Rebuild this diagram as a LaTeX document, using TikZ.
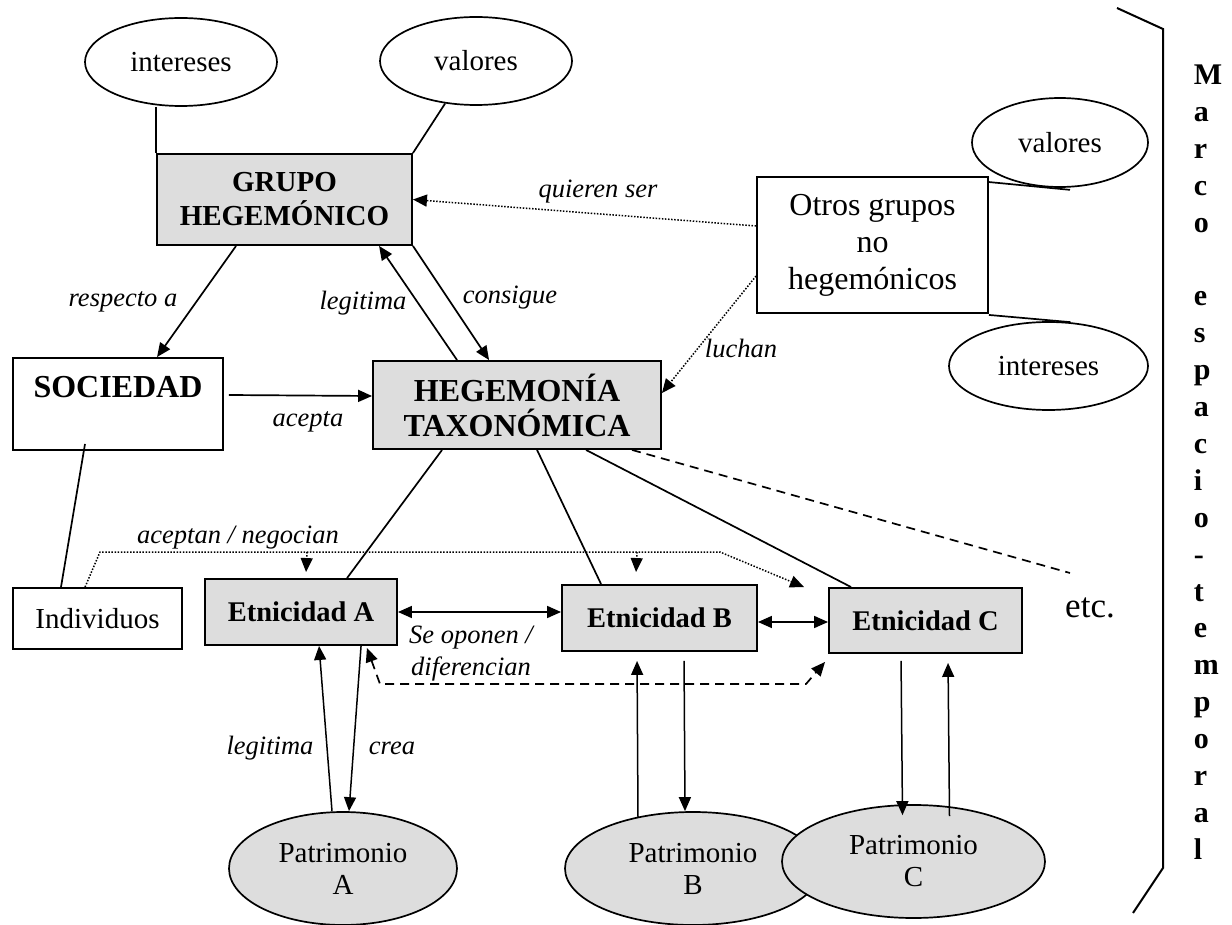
\documentclass[tikz,border=0pt]{standalone}
\usepackage{fontspec}
\setmainfont{Liberation Serif}
\usetikzlibrary{arrows.meta,shapes.geometric,calc}
\definecolor{boxgray}{RGB}{221,221,221}
\begin{document}
\begin{tikzpicture}[x=1pt,y=-1pt,line width=1.7pt,
  rbox/.style={draw, rectangle, inner sep=0pt, align=center, line width=1.9pt},
  gbox/.style={rbox, fill=boxgray},
  oval/.style={draw, ellipse, inner sep=0pt, align=center, line width=1.7pt, font=\fontsize{29}{32}\selectfont},
  lab/.style={inner sep=0pt, align=center, font=\fontsize{26.5}{32}\selectfont\itshape},
  arr/.style={-{Triangle[length=14pt,width=12pt]}},
  arrboth/.style={{Triangle[length=14pt,width=12pt]}-{Triangle[length=14pt,width=12pt]}},
  dotline/.style={line width=1.5pt, dash pattern=on 1.5pt off 1.6pt},
  dashline/.style={line width=1.7pt, dash pattern=on 9pt off 6pt}
]
\useasboundingbox[fill=white] (0,0) rectangle (1232,925);

% ellipses top
\node[oval, minimum width=192pt, minimum height=88pt] (int1) at (181,62) {intereses};
\node[oval, minimum width=192pt, minimum height=88pt] (val1) at (476,61) {valores};
\node[oval, minimum width=176pt, minimum height=89pt] (val2) at (1060,142.5) {valores};
\node[oval, minimum width=199pt, minimum height=88pt] (int2) at (1048.5,366) {intereses};

% boxes
\node[gbox, minimum width=255pt, minimum height=91pt, font=\fontsize{29}{34}\selectfont\bfseries] (gh) at (284.5,199.5) {GRUPO\\HEGEMÓNICO};
\node[gbox, minimum width=288pt, minimum height=88pt, font=\fontsize{32}{35}\selectfont\bfseries] (ht) at (517,405) {HEGEMONÍA\\TAXONÓMICA};
\node[rbox, minimum width=210pt, minimum height=92pt, font=\fontsize{32}{35}\selectfont\bfseries] (soc) at (118,404) {SOCIEDAD\\\mbox{}};
\node[rbox, minimum width=169pt, minimum height=61pt, font=\fontsize{29}{32}\selectfont] (ind) at (97.5,618.5) {Individuos};
\node[gbox, minimum width=192pt, minimum height=66pt, font=\fontsize{28.5}{32}\selectfont\bfseries] (ea) at (301,612) {Etnicidad A};
\node[gbox, minimum width=195pt, minimum height=66pt, font=\fontsize{28.5}{32}\selectfont\bfseries] (eb) at (659.5,618) {Etnicidad B};
\node[gbox, minimum width=193pt, minimum height=65pt, font=\fontsize{28.5}{32}\selectfont\bfseries] (ec) at (925.5,620.5) {Etnicidad C};
\node[rbox, minimum width=231pt, minimum height=136pt, font=\fontsize{32}{37}\selectfont] (otros) at (872.5,245) {Otros grupos\\no\\hegemónicos};

% patrimonio ellipses
\node[oval, fill=boxgray, minimum width=228pt, minimum height=113pt] (pa) at (343,868.5) {Patrimonio\\A};
\node[oval, fill=boxgray, minimum width=256pt, minimum height=113pt] (pb) at (693,868.5) {Patrimonio\\B};
\node[oval, fill=boxgray, minimum width=263pt, minimum height=113pt] (pc) at (913.5,861.5) {Patrimonio\\C};

% etc
\node[inner sep=0pt, font=\fontsize{35}{40}\selectfont] (etc) at (1090,608) {etc.};
\coordinate (etcend) at (1070,573);

% frame text
\node[anchor=north west, inner sep=0pt, align=left, font=\fontsize{30}{36.9}\selectfont\bfseries] (marco) at (1193,64)
  {M\\a\\r\\c\\o\\\mbox{}\\e\\s\\p\\a\\c\\i\\o\\-\\t\\e\\m\\p\\o\\r\\a\\l};
\draw[line width=2pt] (1117,8) -- (1163,29) -- (1163,868) -- (1133,913);

% ellipse attachments
\draw (gh.north west) -- (gh.north west |- int1.south);
\draw (gh.north east) -- (val1.234);
\draw ([yshift=-6pt]otros.north east) -- ([xshift=10pt,yshift=-2pt]val2.south);
\draw ([yshift=-1pt]otros.south east) -- ([xshift=22pt,yshift=-1pt]int2.north);

% main connectors
\draw[arr] ([xshift=80pt]gh.south west) -- ([xshift=145pt]soc.north west);
\node[lab] at (123,302) {respecto a};
\draw[arr] ([xshift=85pt]ht.north west) -- ([xshift=223pt]gh.south west);
\node[lab] at (363,303) {legitima};
\draw[arr] (gh.south east) -- ([xshift=117pt]ht.north west);
\node[lab] at (510,298) {consigue};
\draw[arr] ([xshift=5pt,yshift=9pt]soc.east) -- ([yshift=9pt]ht.west);
\node[lab] at (308,422) {acepta};
\draw[dotline, arr] ([yshift=19pt]otros.west) -- (gh.east);
\node[lab] at (598,192) {quieren ser};
\draw[dotline, arr] ([yshift=-31pt]otros.west) -- ([yshift=12pt]ht.east);
\node[lab] at (741,348) {luchan};

% society - individuals
\draw ([xshift=-33pt,yshift=7pt]soc.south) -- ([xshift=-36.5pt]ind.north);

% hegemonia to etnicidades
\draw ([xshift=70pt]ht.south west) -- ([xshift=143pt]ea.north west);
\draw ([xshift=165pt]ht.south west) -- ([xshift=40pt]eb.north west);
\draw ([xshift=214pt]ht.south west) -- ([xshift=23pt]ec.north west);
\draw[dashline] ([xshift=260pt]ht.south west) -- (etcend);

% individuos dotted
\draw[dotline, arr] ([xshift=73pt]ind.north west) -- (100,552) -- (720,552) -- ([xshift=-24pt]ec.north west);
\draw[dotline, arr] (307,552) -- ([xshift=102pt,yshift=6pt]ea.north west);
\draw[dotline, arr] (637,552) -- ([xshift=75pt,yshift=12pt]eb.north west);
\node[lab] at (238,538) {aceptan / negocian};

% etnicidades mutual
\draw[arrboth] (ea.east) -- (ea.east -| eb.west);
\draw[arrboth] ([yshift=-4pt]eb.east) -- ([yshift=-4pt]eb.east -| ec.west);
\draw[dashline, arrboth] ([xshift=-31pt,yshift=-2pt]ea.south east) -- (380,684) -- (806,684) -- ([xshift=-3pt,yshift=-8pt]ec.south west);
\node[lab] at (471,654) {Se oponen /\\diferencian};

% patrimonio arrows
\draw[arr, line width=1.5pt] ([xshift=-11pt]pa.north) -- ([xshift=115pt]ea.south west);
\node[lab] at (270,748) {legitima};
\draw[arr, line width=1.5pt] ([xshift=157pt]ea.south west) -- ([xshift=6pt]pa.north);
\node[lab] at (392,748) {crea};
\draw[arr, line width=1.5pt] ([xshift=-55pt,yshift=51pt]pb.center) -- ([xshift=76pt,yshift=-9pt]eb.south west);
\draw[arr, line width=1.5pt] ([xshift=123pt,yshift=-9pt]eb.south west) -- ([xshift=-8pt]pb.north);
\draw[arr, line width=1.5pt] ([xshift=73pt,yshift=-7pt]ec.south west) -- ([xshift=-11pt,yshift=-11pt]pc.north);
\draw[arr, line width=1.5pt] ([xshift=36pt,yshift=-12pt]pc.north) -- ([xshift=120pt,yshift=-9pt]ec.south west);
\end{tikzpicture}
\end{document}
